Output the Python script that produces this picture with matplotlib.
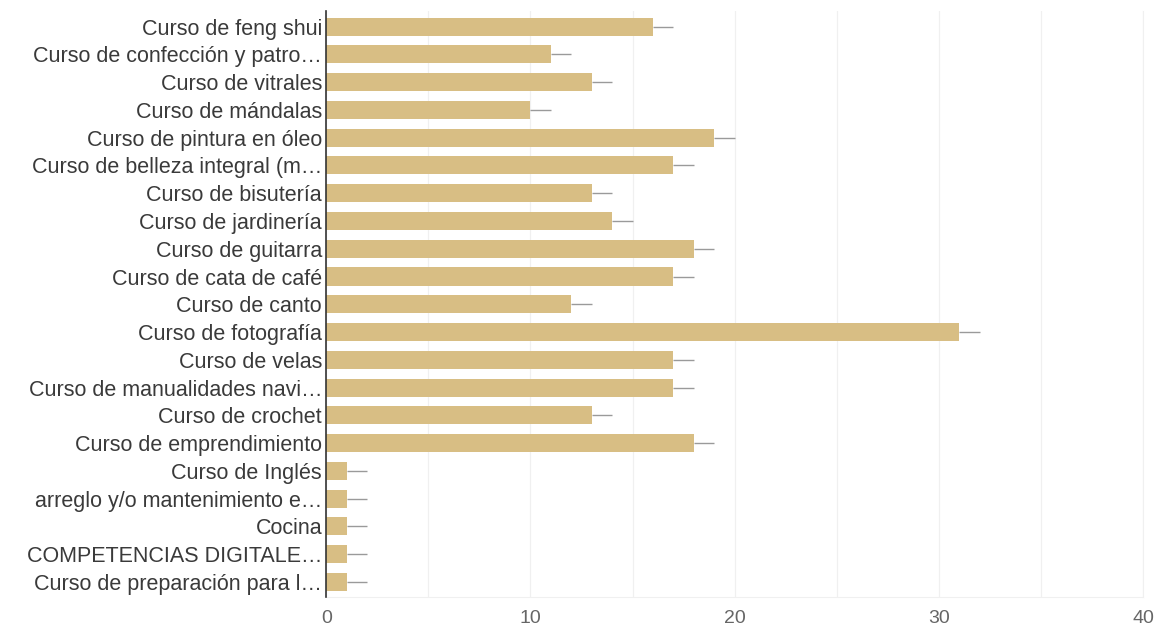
import matplotlib.pyplot as plt
import numpy as np

plt.rcParams['font.family'] = ['Liberation Sans', 'DejaVu Sans']

labels = [
    "Curso de feng shui",
    "Curso de confección y patro…",
    "Curso de vitrales",
    "Curso de mándalas",
    "Curso de pintura en óleo",
    "Curso de belleza integral (m…",
    "Curso de bisutería",
    "Curso de jardinería",
    "Curso de guitarra",
    "Curso de cata de café",
    "Curso de canto",
    "Curso de fotografía",
    "Curso de velas",
    "Curso de manualidades navi…",
    "Curso de crochet",
    "Curso de emprendimiento",
    "Curso de Inglés",
    "arreglo y/o mantenimiento e…",
    "Cocina",
    "COMPETENCIAS DIGITALE…",
    "Curso de preparación para l…",
]
counts = [16, 11, 13, 10, 19, 17, 13, 14, 18, 17, 12, 31, 17, 17, 13, 18, 1, 1, 1, 1, 1]
spread = [1] * len(counts)

bar_color = '#D8BE84'

fig = plt.figure(figsize=(11.61, 6.3), dpi=100)
ax = fig.add_axes([0.281, 0.052, 0.7035, 0.93])

y = np.arange(len(labels))
vals = np.array(counts)
ax.barh(y, vals, height=0.65, color=bar_color, zorder=2)
ax.hlines(y, vals, vals + np.array(spread), color='#9a9a9a', lw=1.0, zorder=3)

ax.set_ylim(len(labels) - 0.45, -0.55)
ax.set_xlim(0, 40)
ax.set_yticks(y)
ax.set_yticklabels(labels, fontsize=15.5, color='#3a3a3a')
ax.set_xticks(np.arange(0, 41, 10))
ax.set_xticklabels([str(t) for t in range(0, 41, 10)], fontsize=14, color='#666666')
ax.set_xticks(np.arange(0, 41, 5), minor=True)

ax.grid(axis='x', which='both', color='#f0f0f0', lw=0.9, zorder=0)
ax.tick_params(axis='y', length=0, pad=3)
ax.tick_params(axis='x', which='both', length=0, pad=9)

ax.spines['top'].set_visible(False)
ax.spines['right'].set_color('#f0f0f0')
ax.spines['bottom'].set_color('#f0f0f0')
ax.spines['left'].set_color('#333333')
ax.spines['left'].set_linewidth(1.2)
ax.spines['left'].set_zorder(4)

fig.savefig('out.png', dpi=100)
